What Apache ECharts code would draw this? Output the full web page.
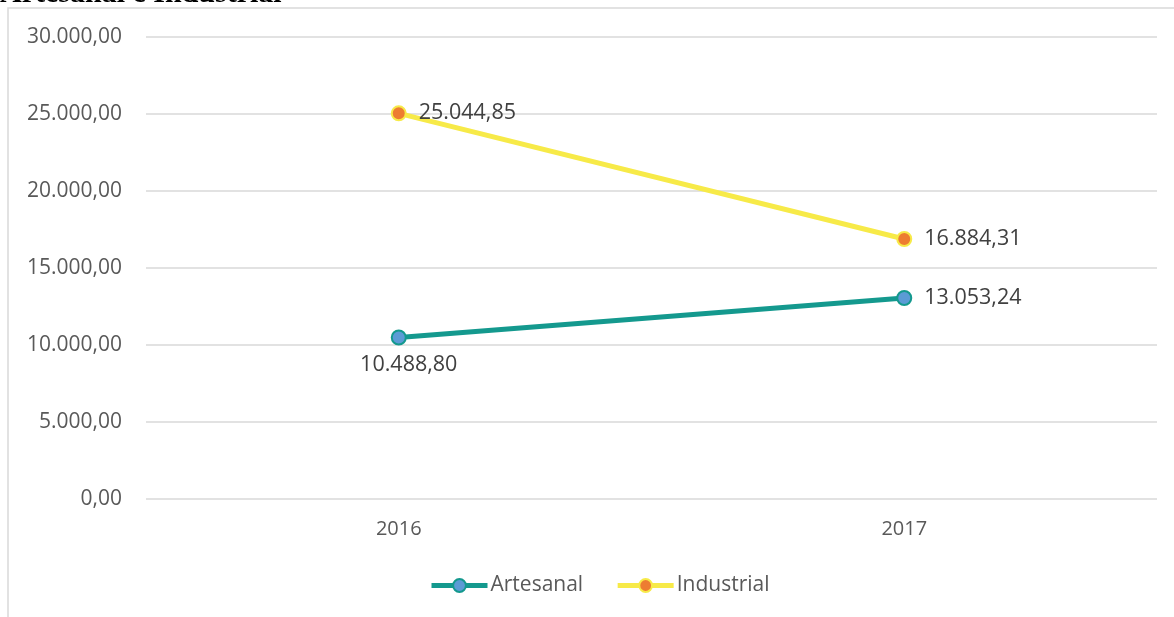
<!DOCTYPE html>
<html><head><meta charset="utf-8">
<script src="https://cdn.jsdelivr.net/npm/echarts@6/dist/echarts.min.js"></script>
<style>html,body{margin:0;padding:0;background:#fff}#c{width:1174px;height:617px}</style>
</head><body><div id="c"></div>
<script>
const categories = ['2016', '2017'];
const artesanal = [10488.80, 13053.24];
const industrial = [25044.85, 16884.31];
const yTicks = [0, 5000, 10000, 15000, 20000, 25000, 30000];
const seriesNames = ['Artesanal', 'Industrial'];
const title = 'Artesanal e Industrial';

function fmt(v, d) {
  const s = v.toFixed(d);
  const [i, f] = s.split('.');
  return i.replace(/\B(?=(\d{3})+(?!\d))/g, '.') + ',' + f;
}
const font = "'Open Sans', 'Noto Sans', sans-serif";
const chart = echarts.init(document.getElementById('c'));
chart.setOption({
  animation: false,
  backgroundColor: '#fff',
  graphic: [
    { type: 'rect', shape: { x: 8, y: 8, width: 1200, height: 700 }, style: { fill: 'none', stroke: '#d9d9d9', lineWidth: 1.5 }, silent: true },
    { type: 'text', x: 0, y: -6, style: { text: title, font: "bold 30px 'Liberation Serif', serif", fill: '#000', verticalAlign: 'middle' } }
  ],
  grid: { left: 146, right: 17, top: 37, bottom: 118 },
  legend: {
    bottom: 16, left: 424, itemWidth: 56, itemHeight: 16, itemGap: 32,
    lineStyle: { width: 5 },
    textStyle: { fontFamily: font, fontSize: 21, color: '#595959', padding: [0, 0, 0, -2] },
    data: seriesNames
  },
  xAxis: {
    type: 'category', data: categories, boundaryGap: true,
    axisLine: { show: false }, axisTick: { show: false },
    axisLabel: { fontFamily: font, fontSize: 20, color: '#595959', margin: 20 }
  },
  yAxis: {
    type: 'value', min: yTicks[0], max: yTicks[yTicks.length - 1], interval: yTicks[1] - yTicks[0],
    axisLine: { show: false }, axisTick: { show: false },
    splitLine: { lineStyle: { color: '#d9d9d9', width: 1.5 } },
    axisLabel: { fontFamily: font, fontSize: 21, color: '#595959', margin: 24, formatter: v => fmt(v, 2) }
  },
  series: [
    {
      name: seriesNames[0], type: 'line',
      symbol: 'circle', symbolSize: 14,
      lineStyle: { color: '#14998e', width: 5 },
      itemStyle: { color: '#5b9bd5', borderColor: '#14998e', borderWidth: 2 },
      label: {
        show: true, fontFamily: font, fontSize: 21.5, color: '#404040',
        formatter: p => fmt(p.value, 2),
        position: 'right', distance: 12
      },
      data: [
        { value: artesanal[0], label: { position: 'bottom', distance: 8, offset: [10, 0] } },
        { value: artesanal[1] }
      ]
    },
    {
      name: seriesNames[1], type: 'line', data: industrial,
      symbol: 'circle', symbolSize: 14,
      lineStyle: { color: '#f7ea48', width: 5 },
      itemStyle: { color: '#ed7d31', borderColor: '#f7ea48', borderWidth: 2 },
      label: {
        show: true, fontFamily: font, fontSize: 21.5, color: '#404040',
        formatter: p => fmt(p.value, 2),
        position: 'right', distance: 12
      }
    }
  ]
});
</script></body></html>
